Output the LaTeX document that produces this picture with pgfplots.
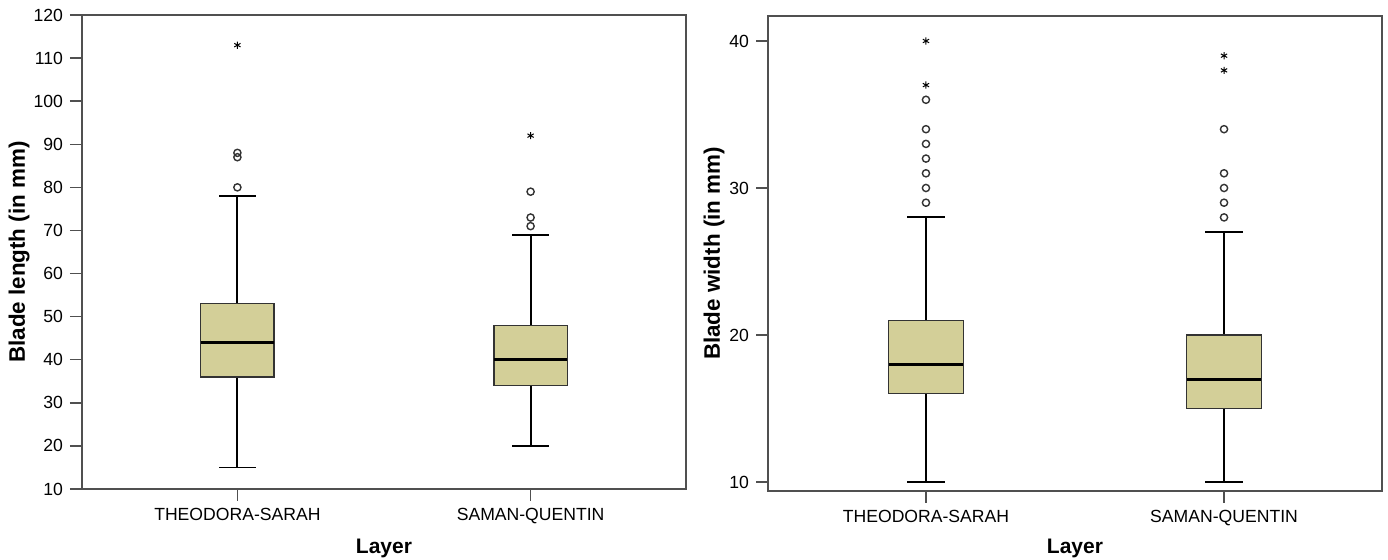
\documentclass[border=0pt]{standalone}
\usepackage{pgfplots}
\pgfplotsset{compat=1.18}
\usepgfplotslibrary{statistics}
\usepackage{fontspec}
\setmainfont{Liberation Sans}
\definecolor{boxfill}{HTML}{D3CF98}
\definecolor{axgray}{HTML}{505050}
\pgfplotsset{
  myax/.style={
    scale only axis,
    axis line style={axgray, line width=0.7pt},
    tick style={axgray, line width=0.7pt},
    tick align=outside,
    major tick length=6pt,
    xtick pos=bottom, ytick pos=left,
    xmin=0.47, xmax=2.53,
    xtick={1,2},
    xticklabels={THEODORA-SARAH, SAMAN-QUENTIN},
    tick label style={font=\fontsize{8.8}{10}\selectfont},
    /pgf/number format/assume math mode=true,
    xlabel style={font=\fontsize{10.5}{12}\selectfont\bfseries},
    ylabel style={font=\fontsize{11.2}{13}\selectfont\bfseries},
    xlabel={Layer},
    boxplot/draw direction=y,
    boxplot/box extend=0.25,
    boxplot/whisker extend=0.125,
    boxplot/every box/.style={draw=black!80, line width=0.6pt, fill=boxfill},
    boxplot/every whisker/.style={black, line width=0.9pt},
    boxplot/every median/.style={black, line width=1.6pt},
  },
  circ/.style={only marks, mark=o, mark size=1.8pt, mark options={black!80, line width=0.7pt}},
  star/.style={only marks, mark=asterisk, mark size=1.8pt, mark options={black, line width=0.5pt}},
}
\begin{document}
\begin{tikzpicture}
\useasboundingbox (-41pt,-35.5pt) rectangle (653pt,244.5pt);
\begin{axis}[myax,
  width=302pt, height=237pt,
  ymin=10, ymax=120,
  ytick={10,20,...,120},
  ylabel={Blade length (in mm)},
  ylabel style={at={(axis description cs:-0.104,0.5)}, anchor=center, rotate=0},
  xlabel style={at={(axis description cs:0.5,-0.125)}, anchor=center},
]
\addplot+[boxplot prepared={lower whisker=15, lower quartile=36, median=44, upper quartile=53, upper whisker=78, draw position=1}, mark=none] coordinates {};
\addplot+[boxplot prepared={lower whisker=20, lower quartile=34, median=40, upper quartile=48, upper whisker=69, draw position=2}, mark=none] coordinates {};
\addplot[circ] coordinates {(1,80) (1,87) (1,88) (2,79) (2,73) (2,71)};
\addplot[star] coordinates {(1,113) (2,92)};
\end{axis}
\begin{axis}[myax,
  at={(343pt,-1pt)},
  width=307pt, height=237.5pt,
  ymin=9.39, ymax=41.7,
  ytick={10,20,30,40},
  ylabel={Blade width (in mm)},
  ylabel style={at={(axis description cs:-0.088,0.5)}, anchor=center, rotate=0},
  xlabel style={at={(axis description cs:0.5,-0.12)}, anchor=center},
]
\addplot+[boxplot prepared={lower whisker=10, lower quartile=16, median=18, upper quartile=21, upper whisker=28, draw position=1}, mark=none] coordinates {};
\addplot+[boxplot prepared={lower whisker=10, lower quartile=15, median=17, upper quartile=20, upper whisker=27, draw position=2}, mark=none] coordinates {};
\addplot[circ] coordinates {(1,29) (1,30) (1,31) (1,32) (1,33) (1,34) (1,36) (2,28) (2,29) (2,30) (2,31) (2,34)};
\addplot[star] coordinates {(1,40) (1,37) (2,39) (2,38)};
\end{axis}
\end{tikzpicture}
\end{document}
